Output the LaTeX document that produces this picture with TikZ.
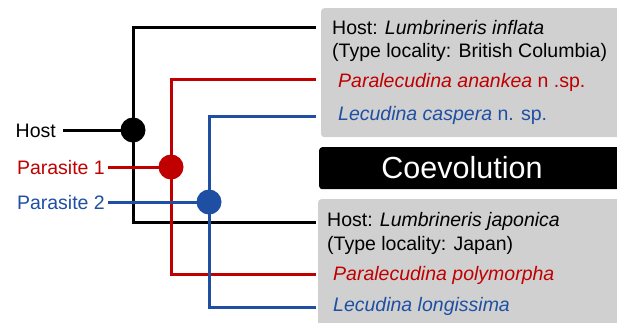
\documentclass[tikz,border=0pt]{standalone}
\usepackage{fontspec}
\setmainfont{Liberation Sans}
\definecolor{pred}{HTML}{C00000}
\definecolor{pblue}{HTML}{1F4FA3}
\definecolor{boxgray}{HTML}{D0D0D0}
\begin{document}
\begin{tikzpicture}[x=1pt,y=-1pt,
  lbl/.style={font=\fontsize{19.5}{22}\selectfont, inner sep=0pt},
  hostc/.style={line width=3pt, black},
  redc/.style={line width=3pt, pred},
  bluec/.style={line width=3pt, pblue},
  dotnode/.style={circle, inner sep=0pt, minimum size=25pt},
  grayboxst/.style={fill=boxgray, rounded corners=3pt},
]
\clip (0,0) rectangle (617,322);
\useasboundingbox (0,0) rectangle (617,322);

% boxes
\node[grayboxst, anchor=north west, minimum width=310pt, minimum height=129pt] (topbox) at (321,8) {};
\node[fill=black, rounded corners=3pt, anchor=north west, minimum width=305pt, minimum height=42pt] (coevo) at (319,147) {};
\node[font=\fontsize{30.5}{34}\selectfont, text=white, inner sep=0pt] (coevotext) at (462,168) {Coevolution};
\node[grayboxst, anchor=north west, minimum width=310pt, minimum height=135pt] (botbox) at (318,199) {};

% box texts
\node[lbl, anchor=base west] (t1) at (332,34) {Host: \textit{Lumbrineris inflata}};
\node[lbl, anchor=base west] (t2) at (332,57) {(Type locality: British Columbia)};
\node[lbl, anchor=base west, text=pred] (t3) at (338,87) {\textit{Paralecudina anankea} n .sp.};
\node[lbl, anchor=base west, text=pblue] (t4) at (338,120) {\textit{Lecudina caspera} n. sp.};
\node[lbl, anchor=base west] (b1) at (327,226) {Host: \textit{Lumbrineris japonica}};
\node[lbl, anchor=base west] (b2) at (327,250) {(Type locality: Japan)};
\node[lbl, anchor=base west, text=pred] (b3) at (333,280) {\textit{Paralecudina polymorpha}};
\node[lbl, anchor=base west, text=pblue] (b4) at (333,311) {\textit{Lecudina longissima}};

% left labels
\node[lbl, anchor=base east] (hostlbl) at (56,137) {Host};
\node[lbl, anchor=base east, text=pred] (p1lbl) at (105,174) {Parasite 1};
\node[lbl, anchor=base east, text=pblue] (p2lbl) at (105,209) {Parasite 2};

% dots
\node[dotnode] (hostdot) at (133,130) {};
\node[dotnode] (p1dot) at (171,167) {};
\node[dotnode] (p2dot) at (209,202) {};

% endpoints
\coordinate (hT) at (316,27);
\coordinate (hB) at (316,222);
\coordinate (rT) at (316,79);
\coordinate (rB) at (316,274);
\coordinate (bT) at (316,116);
\coordinate (bB) at (316,307);
\coordinate (hIn) at (63,130);
\coordinate (rIn) at (108,167);
\coordinate (bIn) at (108,202);

% connectors
\draw[hostc] (hostdot.center) |- (hT);
\draw[hostc] (hostdot.center) |- (hB);
\draw[hostc] (hIn) -- (hostdot.center);
\draw[redc] (p1dot.center) |- (rT);
\draw[redc] (p1dot.center) |- (rB);
\draw[redc] (rIn) -- (p1dot.center);
\draw[bluec] (p2dot.center) |- (bT);
\draw[bluec] (p2dot.center) |- (bB);
\draw[bluec] (bIn) -- (p2dot.center);

% dots on top
\fill[black] (hostdot) circle (12.5pt);
\fill[pred] (p1dot) circle (12.5pt);
\fill[pblue] (p2dot) circle (12.5pt);
\end{tikzpicture}
\end{document}
